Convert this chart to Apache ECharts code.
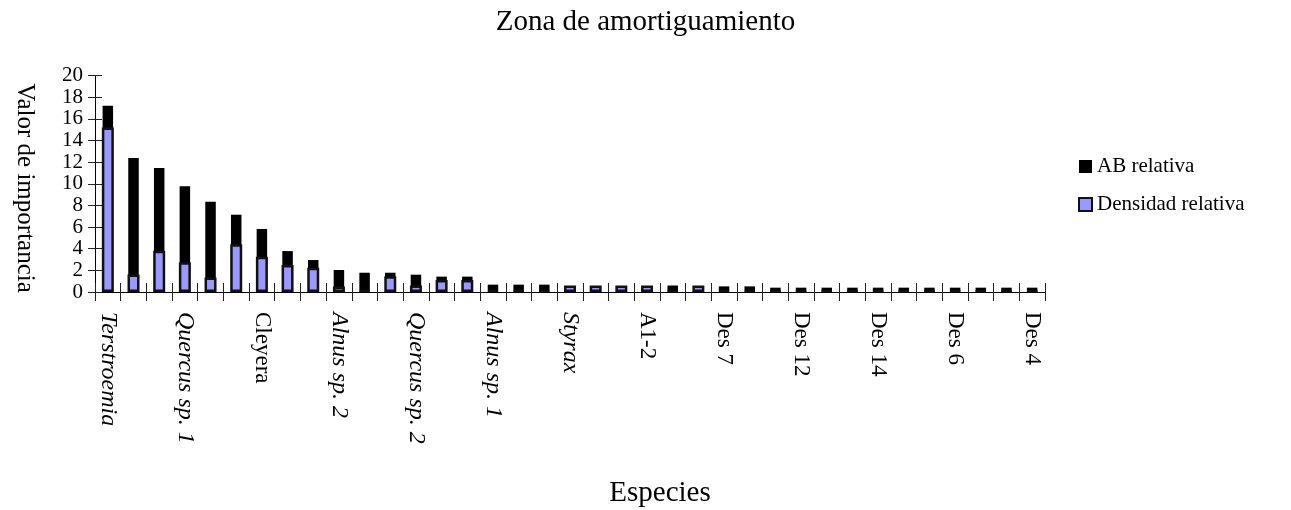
<!DOCTYPE html>
<html>
<head>
<meta charset="utf-8">
<script src="https://cdn.jsdelivr.net/npm/echarts@6/dist/echarts.min.js"></script>
<style>html,body{margin:0;padding:0;background:#fff}#c{width:1291px;height:510px}</style>
</head>
<body>
<div id="c"></div>
<script>
const categories = ['Terstroemia','Especie 2','Especie 3','Quercus sp. 1','Especie 5','Especie 6','Cleyera','Especie 8','Especie 9','Alnus sp. 2','Especie 11','Especie 12','Quercus sp. 2','Especie 14','Especie 15','Alnus sp. 1','Especie 17','Especie 18','Styrax','Especie 20','Especie 21','A1-2','Especie 23','Especie 24','Des 7','Especie 26','Especie 27','Des 12','Especie 29','Especie 30','Des 14','Especie 32','Especie 33','Des 6','Especie 35','Especie 36','Des 4'];
const italicLabels = ['Terstroemia','Quercus sp. 1','Alnus sp. 2','Quercus sp. 2','Alnus sp. 1','Styrax'];
const abRelativa = [17.2,12.37,11.45,9.78,8.34,7.14,5.82,3.78,2.95,2.03,1.78,1.78,1.6,1.42,1.42,0.68,0.68,0.68,0.5,0.5,0.5,0.5,0.6,0.5,0.52,0.52,0.4,0.4,0.4,0.4,0.4,0.4,0.4,0.4,0.4,0.4,0.4];
const densidadRelativa = [15.2,1.62,3.8,2.75,1.35,4.4,3.25,2.5,2.25,0.5,0.2,1.45,0.6,1.1,1.1,0.2,0.2,0.2,0.6,0.6,0.6,0.6,0.2,0.6,0.2,0.2,0.15,0.15,0.15,0.15,0.15,0.15,0.15,0.15,0.15,0.15,0.15];
const seriesNames = ['AB relativa','Densidad relativa'];
const chartTitle = 'Zona de amortiguamiento';
const xName = 'Especies';
const yName = 'Valor de importancia';

const FONT = 'Liberation Serif';
const chart = echarts.init(document.getElementById('c'), null, {renderer:'canvas'});
const grid = {left:95, right:246, top:75.5, bottom:218};
const axisLineStyle = {color:'#000', width:1};
chart.setOption({
  animation:false,
  backgroundColor:'#fff',
  title:{text:chartTitle, left:'center', top:3, textStyle:{fontFamily:FONT, fontSize:29, fontWeight:'normal', color:'#000'}},
  legend:{orient:'vertical', left:1073, top:151, itemGap:17, itemWidth:13, itemHeight:13, icon:'rect',
    textStyle:{fontFamily:FONT, fontSize:21, color:'#000'}, data:seriesNames},
  grid:grid,
  graphic:[
    {type:'text', x:660, y:493, style:{text:xName, fontFamily:FONT, fontSize:29, fill:'#000', align:'center', verticalAlign:'middle'}},
    {type:'text', x:25, y:188, rotation:-Math.PI/2, style:{text:yName, fontFamily:FONT, fontSize:25, fill:'#000', align:'center', verticalAlign:'middle'}}
  ],
  xAxis:[
    {type:'category', data:categories, position:'bottom', boundaryGap:true,
     axisLine:{lineStyle:axisLineStyle}, axisTick:{show:true, interval:0, length:9, inside:false, lineStyle:{color:'#222'}},
     axisLabel:{interval:2, rotate:-90, margin:20, fontFamily:FONT, fontSize:23, color:'#000',
       formatter:(v)=> italicLabels.includes(v) ? '{it|'+v+'}' : v,
       rich:{it:{fontStyle:'italic', fontFamily:FONT, fontSize:24, color:'#000'}}}},
    {type:'category', data:categories, position:'bottom', boundaryGap:true, offset:0,
     axisLine:{lineStyle:axisLineStyle}, axisTick:{show:true, interval:0, length:9, inside:true, lineStyle:{color:'#222'}},
     axisLabel:{show:false}}
  ],
  yAxis:[
    {type:'value', min:0, max:20, interval:2, position:'left',
     axisLine:{show:true, lineStyle:axisLineStyle}, axisTick:{show:true, length:7, lineStyle:{color:'#222'}},
     splitLine:{show:false},
     axisLabel:{margin:12, fontFamily:FONT, fontSize:21, color:'#000'}},
    {type:'value', min:0, max:20, interval:2, position:'left', offset:0,
     axisLine:{show:true, lineStyle:axisLineStyle}, axisTick:{show:true, inside:true, length:7, lineStyle:{color:'#222'}},
     splitLine:{show:false}, axisLabel:{show:false}}
  ],
  series:[
    {name:seriesNames[0], type:'bar', xAxisIndex:0, yAxisIndex:0, data:abRelativa, barWidth:10.5,
     itemStyle:{color:'#000'}},
    {name:seriesNames[1], type:'bar', xAxisIndex:1, yAxisIndex:0, data:densidadRelativa, barWidth:12,
     itemStyle:{color:'#9999ff', borderColor:'#111', borderWidth:2.5}}
  ]
});
</script>
</body>
</html>
